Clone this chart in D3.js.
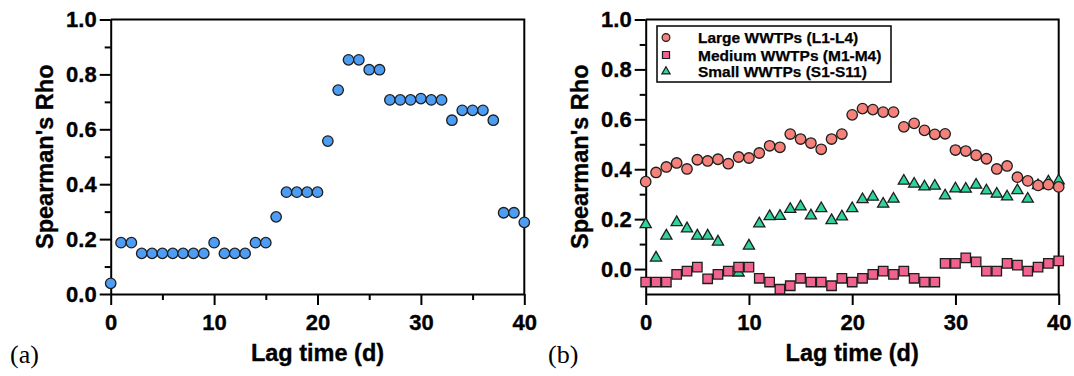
<!DOCTYPE html>
<html>
<head>
<meta charset="utf-8">
<script src="https://cdn.jsdelivr.net/npm/d3@7"></script>
<style>
  body { margin: 0; background: #fff; }
  svg { display: block; }
  text { font-family: "Liberation Sans", Arial, sans-serif; font-weight: bold; fill: #000; stroke: #000; stroke-width: 0.35px; }
</style>
</head>
<body>
<svg id="chart" width="1074" height="376"></svg>
<script>
// lag days shared by both panels
const lagDays = [0,1,2,3,4,5,6,7,8,9,10,11,12,13,14,15,16,17,18,19,20,
                 21,22,23,24,25,26,27,28,29,30,31,32,33,34,35,36,37,38,39,40];

// panel (a): all WWTPs
const rhoAll = [0.039,0.187,0.187,0.148,0.148,0.148,0.148,0.148,0.148,0.148,0.187,
                0.148,0.148,0.148,0.187,0.187,0.281,0.371,0.371,0.371,0.371,
                0.557,0.743,0.853,0.853,0.817,0.817,0.707,0.707,0.707,0.712,
                0.707,0.707,0.633,0.669,0.669,0.669,0.633,0.296,0.296,0.261];

// panel (b): by plant size
const rhoLarge = [0.350,0.387,0.409,0.425,0.401,0.438,0.433,0.440,0.422,0.449,0.445,
                  0.465,0.494,0.488,0.541,0.521,0.505,0.480,0.521,0.541,0.618,
                  0.643,0.639,0.629,0.629,0.570,0.584,0.556,0.540,0.542,0.477,
                  0.473,0.456,0.442,0.401,0.413,0.368,0.353,0.335,0.338,0.329];
const rhoMedium = [-0.052,-0.052,-0.052,-0.021,-0.008,0.008,-0.039,-0.021,-0.008,0.008,0.008,
                   -0.037,-0.052,-0.081,-0.067,-0.037,-0.052,-0.052,-0.067,-0.037,-0.052,
                   -0.037,-0.021,-0.008,-0.021,-0.008,-0.037,-0.052,-0.052,0.023,0.023,
                   0.045,0.029,-0.008,-0.008,0.023,0.016,-0.008,0.008,0.023,0.033];
const rhoSmall = [0.179,0.045,0.133,0.187,0.162,0.133,0.133,0.109,null,-0.015,0.093,
                  0.182,0.211,0.212,0.240,0.250,0.214,0.243,0.195,0.210,0.243,
                  0.279,0.289,0.261,0.281,0.353,0.341,0.330,0.333,0.294,0.322,
                  0.321,0.337,0.314,0.301,0.290,0.315,0.281,0.335,0.350,0.354];

const seriesNames = ["Large WWTPs (L1-L4)", "Medium WWTPs (M1-M4)", "Small WWTPs (S1-S11)"];

const xTicks = [0, 10, 20, 30, 40];
const xMinorA = [5, 15, 25, 35];
const yTicks = [0.0, 0.2, 0.4, 0.6, 0.8, 1.0];
const yMinorA = [0.1, 0.3, 0.5, 0.7, 0.9];
const yMinorB = [0.1, 0.3, 0.5, 0.7, 0.9];

const svg = d3.select("#chart");
const plotTop = 19.5, plotBottom = 294;

function drawPanel(left, right, yDomain, yMinor, xMinor, label, labelX) {
  const g = svg.append("g");
  const x = d3.scaleLinear().domain([0, 40]).range([left, right]);
  const y = d3.scaleLinear().domain(yDomain).range([plotBottom, plotTop]);

  // frame top + right
  g.append("path")
    .attr("d", `M${left},${plotTop}H${right}V${plotBottom}`)
    .attr("fill", "none").attr("stroke", "#000").attr("stroke-width", 2);

  // x axis
  const xa = g.append("g").attr("transform", `translate(0,${plotBottom})`)
    .call(d3.axisBottom(x).tickValues(xTicks).tickSize(11).tickSizeOuter(0));
  xa.selectAll("text").attr("y", 36).attr("dy", 0).style("font-size", "22px");
  if (xMinor) {
    g.append("g").attr("transform", `translate(0,${plotBottom})`)
      .call(d3.axisBottom(x).tickValues(xMinor).tickSize(6).tickFormat("").tickSizeOuter(0))
      .select(".domain").remove();
  }

  // y axis
  const ya = g.append("g").attr("transform", `translate(${left},0)`)
    .call(d3.axisLeft(y).tickValues(yTicks).tickSize(11).tickSizeOuter(0).tickFormat(d3.format(".1f")));
  ya.selectAll("text").attr("x", -14).style("font-size", "22px");
  g.append("g").attr("transform", `translate(${left},0)`)
    .call(d3.axisLeft(y).tickValues(yMinor).tickSize(6).tickFormat("").tickSizeOuter(0))
    .select(".domain").remove();

  g.selectAll(".domain, .tick line").attr("stroke", "#000").attr("stroke-width", 2);

  // titles
  g.append("text")
    .attr("x", (left + right) / 2).attr("y", 361)
    .attr("text-anchor", "middle").style("font-size", "23.5px")
    .text("Lag time (d)");
  g.append("text")
    .attr("transform", `translate(${left - 66},${(plotTop + plotBottom) / 2}) rotate(-90)`)
    .attr("text-anchor", "middle").attr("dy", "0.35em").style("font-size", "23.5px")
    .text("Spearman's Rho");
  g.append("text")
    .attr("x", labelX).attr("y", 363)
    .style("font-family", "'Liberation Serif', 'Times New Roman', serif")
    .style("font-weight", "normal").style("stroke", "none").style("font-size", "26px")
    .text(label);

  return { g, x, y };
}

function drawMarkers(p, values, type, size, fill) {
  const sym = d3.symbol().type(type).size(size);
  p.g.append("g").selectAll("path")
    .data(lagDays.map((d, i) => ({ d, v: values[i] })).filter(o => o.v !== null))
    .join("path")
    .attr("d", sym)
    .attr("transform", o => `translate(${p.x(o.d)},${p.y(o.v)})`)
    .attr("fill", fill).attr("stroke", "#1e1e1e").attr("stroke-width", 1.3);
}

// panel (a)
const pa = drawPanel(110.7, 524.3, [0, 1], yMinorA, xMinorA, "(a)", 10);
drawMarkers(pa, rhoAll, d3.symbolCircle, 86, "#4d9df4");

// panel (b)
const pb = drawPanel(645.7, 1058.7, [-0.1, 1], yMinorB, null, "(b)", 548);
const colors = ["#f4817a", "#f2628e", "#2fd49a"];
const shapes = [d3.symbolCircle, d3.symbolSquare, d3.symbolTriangle];
const sizes = [86, 90, 54];
drawMarkers(pb, rhoSmall, shapes[2], sizes[2], colors[2]);
drawMarkers(pb, rhoMedium, shapes[1], sizes[1], colors[1]);
drawMarkers(pb, rhoLarge, shapes[0], sizes[0], colors[0]);

// legend
const lg = svg.append("g");
lg.append("rect").attr("x", 657).attr("y", 26).attr("width", 234).attr("height", 56)
  .attr("fill", "#fff").attr("stroke", "#000").attr("stroke-width", 1.5);
const rowY = [37.5, 55, 71.5];
seriesNames.forEach((name, i) => {
  lg.append("path")
    .attr("d", d3.symbol().type(shapes[i]).size(sizes[i] * 0.55))
    .attr("transform", `translate(666,${rowY[i]})`)
    .attr("fill", colors[i]).attr("stroke", "#1e1e1e").attr("stroke-width", 1.2);
  lg.append("text").attr("x", 698).attr("y", rowY[i]).attr("dy", "0.36em")
    .style("font-size", "15.5px").style("stroke-width", "0.25px").text(name);
});
</script>
</body>
</html>
